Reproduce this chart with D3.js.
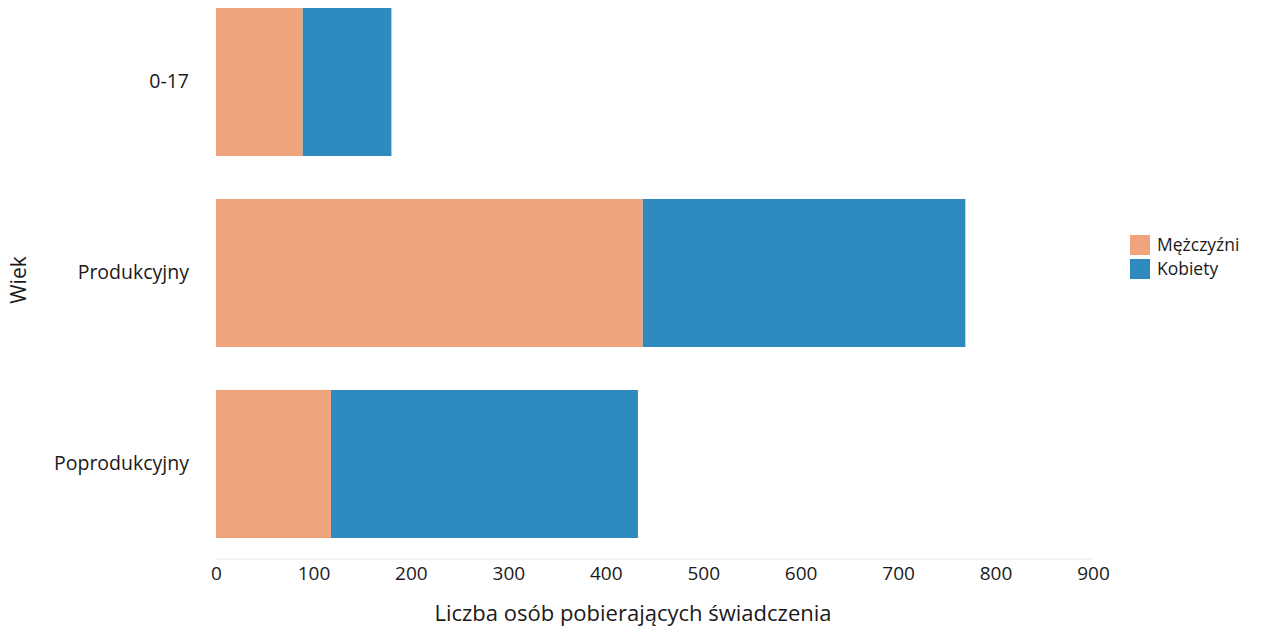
<!DOCTYPE html>
<html><head><meta charset="utf-8">
<script src="https://cdn.jsdelivr.net/npm/d3@7"></script>
<style>body{margin:0;background:#fff}svg{display:block}text{font-family:"Open Sans","Noto Sans",sans-serif;fill:#1a1a1a}</style>
</head><body>
<script>
const categories = ["0-17", "Produkcyjny", "Poprodukcyjny"];
const seriesNames = ["Mężczyźni", "Kobiety"];
const men = [89, 438, 118];
const women = [91, 331, 315];
const xTicks = [0, 100, 200, 300, 400, 500, 600, 700, 800, 900];
const colors = ["#EFA47E", "#2F8BBF"];

const W = 1267, H = 633;
const svg = d3.select("body").append("svg").attr("width", W).attr("height", H);

const x = d3.scaleLinear().domain([0, 900]).range([216, 1093]);
const y = d3.scaleBand().domain(categories).range([8, 538]).paddingInner(0.225).paddingOuter(0);

const rows = categories.map((c, i) => ({cat: c, "Mężczyźni": men[i], "Kobiety": women[i]}));
const stacked = d3.stack().keys(seriesNames)(rows);

svg.append("line").attr("x1", x(0)).attr("x2", x(900)).attr("y1", 559).attr("y2", 559)
  .attr("stroke", "#e3e9f0").attr("stroke-width", 1);

svg.append("g").selectAll("g").data(stacked).join("g")
  .attr("fill", (d, i) => colors[i])
  .selectAll("rect").data(d => d).join("rect")
  .attr("x", d => x(d[0]))
  .attr("width", d => x(d[1]) - x(d[0]))
  .attr("y", d => y(d.data.cat))
  .attr("height", y.bandwidth());

const xAxis = svg.append("g").attr("transform", "translate(0,561)")
  .call(d3.axisBottom(x).tickValues(xTicks).tickSize(0).tickPadding(2));
xAxis.select(".domain").remove();
xAxis.selectAll("text").style("font-size", "19px").attr("dy", "0.9em");

const yAxis = svg.append("g").attr("transform", "translate(189,0)")
  .call(d3.axisLeft(y).tickSize(0).tickPadding(0));
yAxis.select(".domain").remove();
yAxis.selectAll("text").style("font-size", "19.5px");

svg.append("text").attr("x", 633).attr("y", 621).attr("text-anchor", "middle")
  .style("font-size", "22px").text("Liczba osób pobierających świadczenia");
svg.append("text").attr("transform", "translate(26,280) rotate(-90)").attr("text-anchor", "middle")
  .style("font-size", "21px").text("Wiek");

const leg = svg.append("g").attr("transform", "translate(1130,235)");
seriesNames.forEach((n, i) => {
  leg.append("rect").attr("x", 0).attr("y", i * 24).attr("width", 20).attr("height", 20).attr("fill", colors[i]);
  leg.append("text").attr("x", 27).attr("y", i * 24 + 10).attr("dy", "0.35em").style("font-size", "17.5px").text(n);
});
</script>
</body></html>
